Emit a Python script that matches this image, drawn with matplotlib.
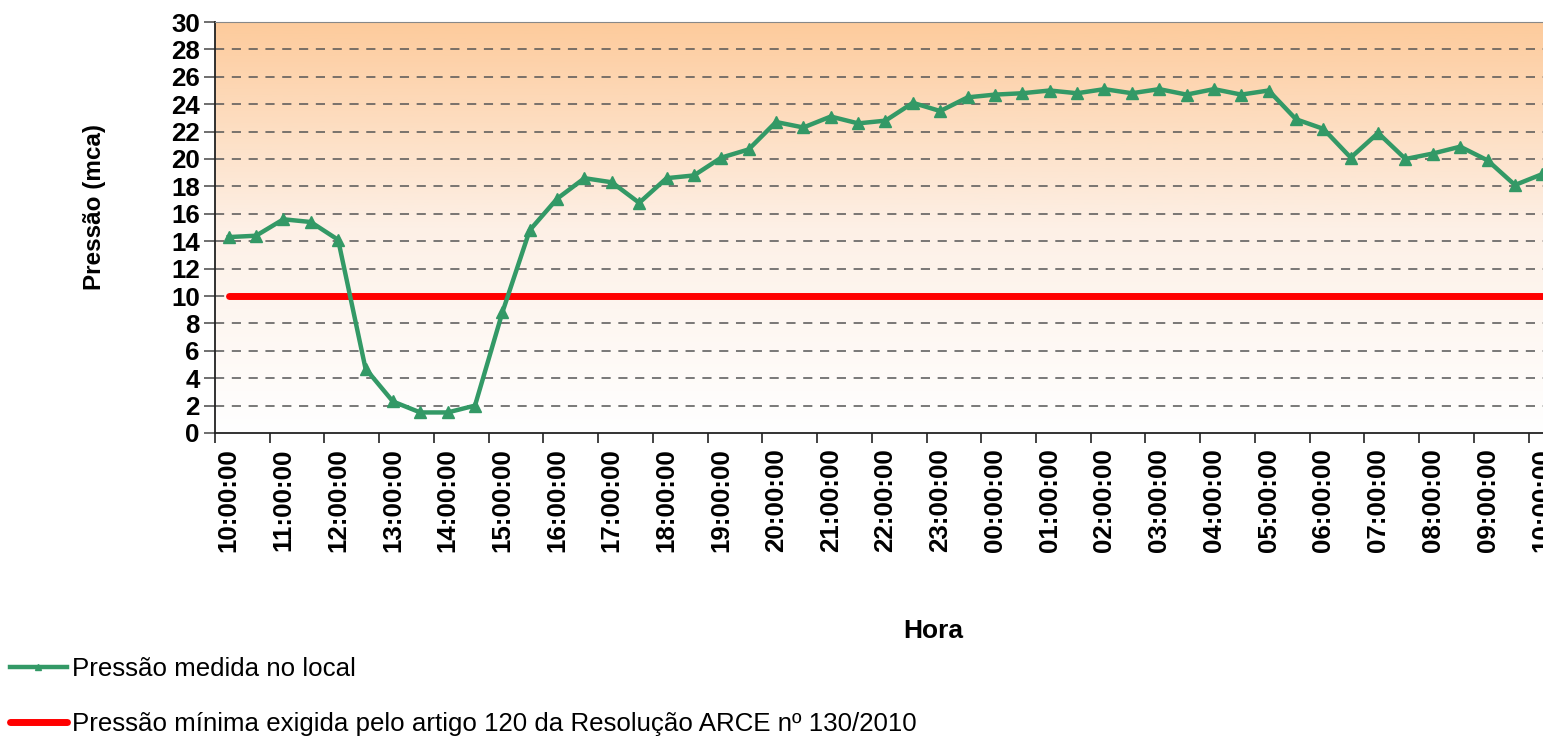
import numpy as np
import matplotlib
matplotlib.use("Agg")
import matplotlib.pyplot as plt
from matplotlib.colors import LinearSegmentedColormap
from matplotlib.lines import Line2D

plt.rcParams['font.family'] = ['Liberation Sans', 'DejaVu Sans']

# leituras a cada 30 minutos
horas = ['10:00:00', '10:30:00', '11:00:00', '11:30:00', '12:00:00', '12:30:00',
         '13:00:00', '13:30:00', '14:00:00', '14:30:00', '15:00:00', '15:30:00',
         '16:00:00', '16:30:00', '17:00:00', '17:30:00', '18:00:00', '18:30:00',
         '19:00:00', '19:30:00', '20:00:00', '20:30:00', '21:00:00', '21:30:00',
         '22:00:00', '22:30:00', '23:00:00', '23:30:00', '00:00:00', '00:30:00',
         '01:00:00', '01:30:00', '02:00:00', '02:30:00', '03:00:00', '03:30:00',
         '04:00:00', '04:30:00', '05:00:00', '05:30:00', '06:00:00', '06:30:00',
         '07:00:00', '07:30:00', '08:00:00', '08:30:00', '09:00:00', '09:30:00',
         '10:00:00']

pressao = [14.3, 14.4, 15.6, 15.4, 14.1, 4.7, 2.3, 1.5, 1.5, 2.0,
           8.8, 14.8, 17.1, 18.6, 18.3, 16.8, 18.6, 18.8, 20.1, 20.7,
           22.7, 22.3, 23.1, 22.6, 22.8, 24.1, 23.5, 24.5, 24.7, 24.8,
           25.0, 24.8, 25.1, 24.8, 25.1, 24.7, 25.1, 24.7, 25.0, 22.9,
           22.2, 20.1, 21.9, 20.0, 20.4, 20.9, 19.9, 18.1, 18.9]

pressao_minima = [10.0] * len(horas)

rotulos_y = list(range(0, 31, 2))

verde = '#339966'
vermelho = '#FF0000'
fs = 18.6

fig = plt.figure(figsize=(15.43, 7.37), dpi=100)
ax = fig.add_axes([215 / 1543, 1 - 433 / 737, (1556 - 215) / 1543, (433 - 22) / 737])

# fundo em degradê
cmap = LinearSegmentedColormap.from_list('fundo', ['#FFFFFF', '#FDF0E6', '#FDCB9C'])
grad = np.linspace(0, 1, 256).reshape(-1, 1)
ax.imshow(grad, extent=[0, 1, 0, 1], transform=ax.transAxes, aspect='auto',
          cmap=cmap, origin='lower', zorder=0)

x = np.arange(len(horas))
ax.plot(x, pressao_minima, color=vermelho, lw=5, solid_capstyle='round', zorder=3)
ax.plot(x, pressao, color=verde, lw=3.2, marker='^', ms=8, zorder=4)

ax.set_xlim(-0.5, len(horas) - 0.5)
ax.set_ylim(0, 30)

ax.set_yticks(rotulos_y)
ax.set_yticklabels([str(v) for v in rotulos_y], fontsize=fs, fontweight='bold')
for v in rotulos_y[1:-1]:
    ax.axhline(v, color='#555555', lw=1.1, ls=(0, (6, 5)), zorder=1)

ax.set_xticks(x[::2])
ax.set_xticklabels(horas[::2], rotation=90, fontsize=fs, fontweight='bold')
ax.set_xticks(np.arange(-0.5, len(horas), 2), minor=True)
ax.tick_params(axis='x', which='major', length=0, pad=11)
ax.tick_params(axis='x', which='minor', length=7, width=1.2, color='#222222')
ax.tick_params(axis='y', length=8, width=1.2, color='#555555', pad=3)

for s in ['left', 'bottom']:
    ax.spines[s].set_color('#222222')
    ax.spines[s].set_linewidth(1.3)
ax.spines['top'].set_color('#888888')
ax.spines['right'].set_visible(False)

fig.text(95 / 1543, 1 - 207 / 737, 'Pressão (mca)', rotation=90, ha='center', va='center',
         fontsize=17.5, fontweight='bold')
fig.text(933 / 1543, 1 - 631 / 737, 'Hora', ha='center', va='center',
         fontsize=19, fontweight='bold')

handles = [Line2D([], [], color=verde, lw=3.2, marker='^', ms=5),
           Line2D([], [], color=vermelho, lw=5, solid_capstyle='round')]
labels = ['Pressão medida no local',
          'Pressão mínima exigida pelo artigo 120 da Resolução ARCE nº 130/2010']
fig.legend(handles, labels, loc='upper left', bbox_to_anchor=(0.0065, 0.108),
           frameon=False, fontsize=18.6, handlelength=2.2, handletextpad=0.2,
           labelspacing=1.2, borderaxespad=0, borderpad=0)

fig.savefig('out.png', dpi=100)
